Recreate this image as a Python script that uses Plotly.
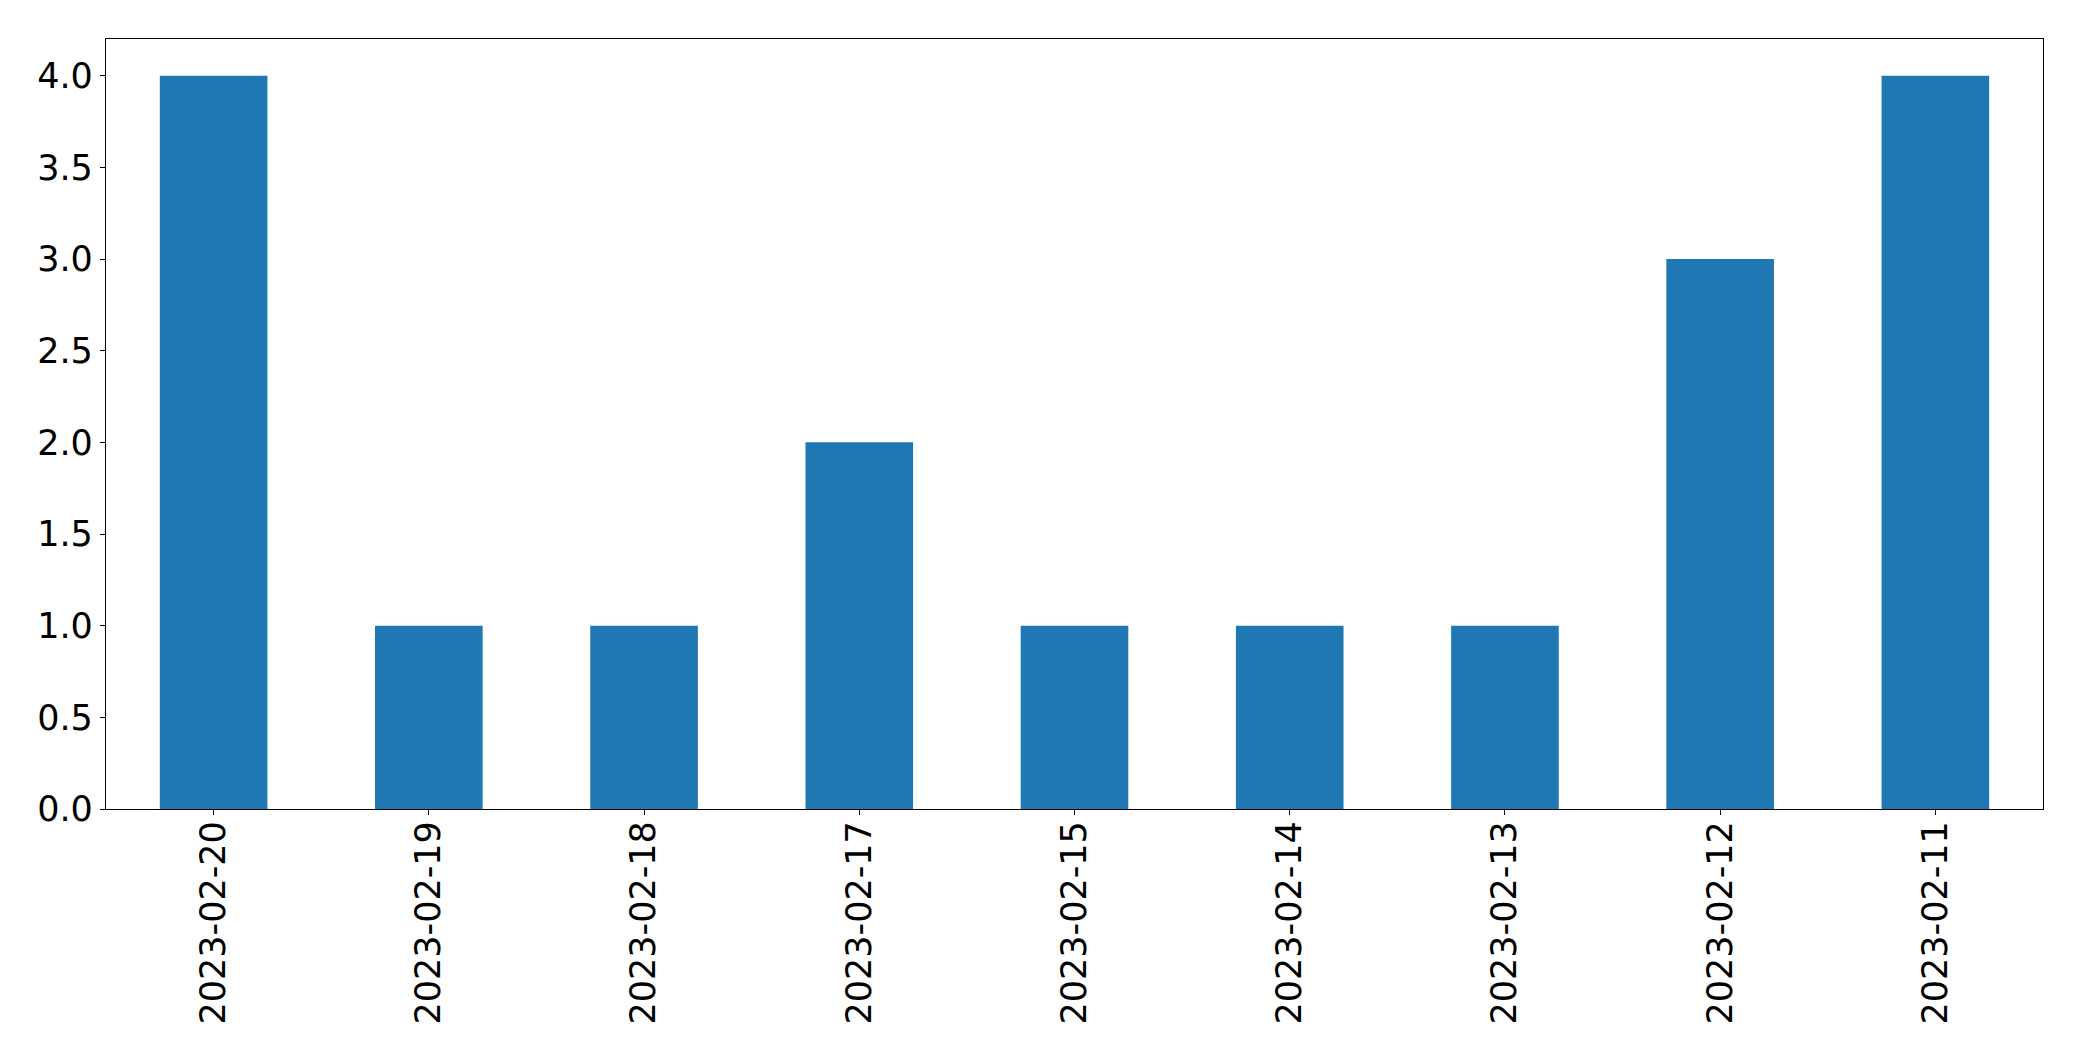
import plotly.graph_objects as go

dates = ["2023-02-20", "2023-02-19", "2023-02-18", "2023-02-17", "2023-02-15",
         "2023-02-14", "2023-02-13", "2023-02-12", "2023-02-11"]
counts = [4, 1, 1, 2, 1, 1, 1, 3, 4]
y_ticks = [0.0, 0.5, 1.0, 1.5, 2.0, 2.5, 3.0, 3.5, 4.0]
y_tick_text = ["0.0", "0.5", "1.0", "1.5", "2.0", "2.5", "3.0", "3.5", "4.0"]

fig = go.Figure(go.Bar(x=dates, y=counts, marker=dict(color="#1f77b4", line=dict(width=0)), width=0.5))

font = dict(family="DejaVu Sans", size=35, color="black")
fig.update_layout(
    width=2074, height=1053,
    margin=dict(l=98, r=39, t=31, b=252, autoexpand=False),
    paper_bgcolor="white", plot_bgcolor="white",
    showlegend=False,
)
fig.update_xaxes(
    type="category", range=[-0.5, 8.5], tickangle=-90, tickfont=font,
    showline=True, mirror=True, linecolor="black", linewidth=1.3,
    ticks="outside", ticklen=5, tickwidth=1.3, tickcolor="black",
    showgrid=False, zeroline=False, automargin=False, ticklabelstandoff=-8,
)
fig.update_yaxes(
    range=[0, 4.2], tickvals=y_ticks, ticktext=y_tick_text, tickfont=font,
    showline=True, mirror=True, linecolor="black", linewidth=1.3,
    ticks="outside", ticklen=5, tickwidth=1.3, tickcolor="black",
    showgrid=False, zeroline=False, automargin=False,
)
fig.write_html("out.html")
